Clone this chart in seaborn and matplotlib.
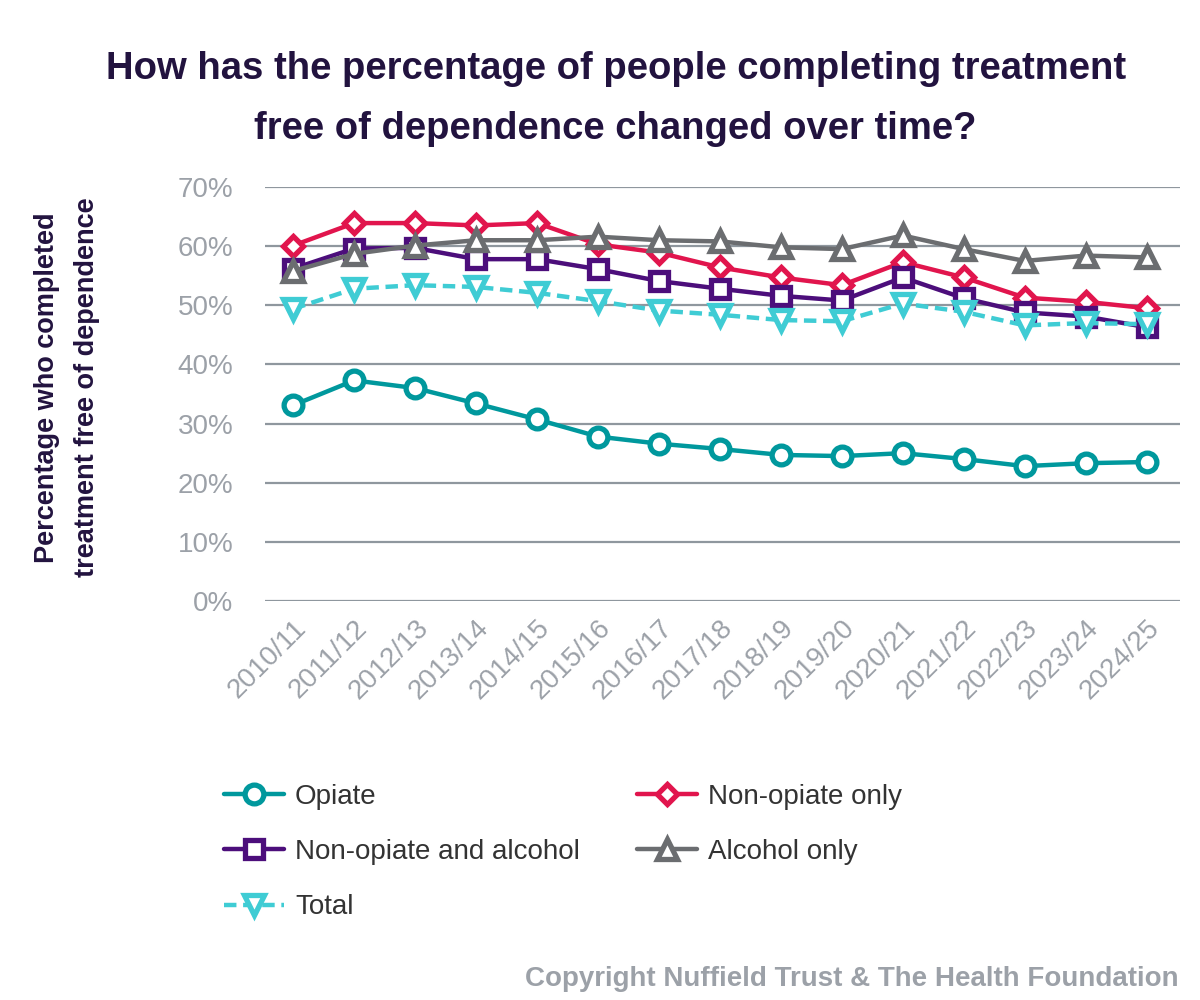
import pandas as pd
import seaborn as sns
import matplotlib.pyplot as plt
from matplotlib.ticker import FuncFormatter

# Data (percent completing treatment free of dependence)
years = ['2010/11', '2011/12', '2012/13', '2013/14', '2014/15', '2015/16', '2016/17', '2017/18',
         '2018/19', '2019/20', '2020/21', '2021/22', '2022/23', '2023/24', '2024/25']
opiate = [33.1, 37.3, 36.0, 33.4, 30.7, 27.8, 26.6, 25.7, 24.7, 24.5, 25.0, 24.0, 22.8, 23.3, 23.5]
non_opiate_only = [60.1, 63.9, 63.9, 63.5, 63.9, 60.3, 58.9, 56.4, 54.7, 53.4, 57.3, 54.7, 51.3, 50.6, 49.5]
non_opiate_alcohol = [56.2, 59.6, 59.7, 57.8, 57.8, 56.1, 54.1, 52.8, 51.6, 50.8, 54.7, 51.2, 48.8, 48.1, 46.3]
alcohol_only = [55.8, 58.7, 60.1, 61.0, 61.0, 61.6, 61.0, 60.8, 59.8, 59.5, 61.8, 59.5, 57.5, 58.4, 58.1]
total = [49.4, 52.8, 53.4, 53.1, 52.1, 50.7, 49.1, 48.4, 47.5, 47.3, 50.3, 48.9, 46.6, 47.0, 46.8]

series = ['Opiate', 'Non-opiate only', 'Non-opiate and alcohol', 'Alcohol only', 'Total']
values = [opiate, non_opiate_only, non_opiate_alcohol, alcohol_only, total]
colours = ['#00989D', '#E1154D', '#4C0E7B', '#6B6D70', '#3FCCD4']
markers = ['o', 'D', 's', '^', 'v']
msizes = [13.5, 10, 12.5, 14.5, 14.5]
styles = ['-', '-', '-', '-', '--']

df = pd.DataFrame({'year': years * len(series),
                   'group': [s for s in series for _ in years],
                   'pct': [v for vals in values for v in vals]})

### Style.
sns.set_theme(style="white")
plt.rcParams['font.family'] = ['Liberation Sans', 'DejaVu Sans']

fig = plt.figure(figsize=(12, 10), dpi=100)
ax = fig.add_axes([0.221, 0.399, 0.762, 0.414])

handles = {}
for name, col, mk, ms, ls in zip(series, colours, markers, msizes, styles):
    sns.lineplot(data=df[df['group'] == name], x='year', y='pct', ax=ax,
                 color=col, marker=mk, markersize=ms, markerfacecolor='white',
                 markeredgecolor=col, markeredgewidth=3.8, linewidth=3.2,
                 linestyle=ls, label=name, legend=False)
    ln = ax.lines[-1]
    if ls == '--':
        ln.set_dashes((2.8, 1.5))
    handles[name] = ln

### Axes.
ax.set_ylim(0, 70)
ax.set_xlim(-0.46, 14.54)
ax.set_yticks(range(0, 71, 10))
ax.yaxis.set_major_formatter(FuncFormatter(lambda v, p: '%d%%' % v))
ax.grid(axis='y', color='#8F979E', linewidth=1.6)
ax.set_axisbelow(True)
for s in ax.spines.values():
    s.set_visible(False)
ax.tick_params(axis='both', length=0, labelsize=20, colors='#9CA1A8')
ax.tick_params(axis='y', pad=23)
ax.tick_params(axis='x', pad=10)
plt.setp(ax.get_xticklabels(), rotation=45, ha='right', rotation_mode='anchor')
ax.set_xlabel('')
ax.set_ylabel('')

### Text.
fig.text(0.513, 0.901, 'How has the percentage of people completing treatment\nfree of dependence changed over time?',
         ha='center', va='center', fontsize=27.5, fontweight='bold', color='#22133F', linespacing=1.85)
fig.text(0.0555, 0.6125, 'Percentage who completed\ntreatment free of dependence',
         rotation=90, ha='center', va='center', fontsize=19.5, fontweight='bold',
         color='#22133F', linespacing=1.7)
fig.text(0.982, 0.021, 'Copyright Nuffield Trust & The Health Foundation',
         ha='right', va='center', fontsize=20, fontweight='bold', color='#9CA1A8')

### Legend (column order: left column first).
order = ['Opiate', 'Non-opiate and alcohol', 'Total', 'Non-opiate only', 'Alcohol only']
fig.legend([handles[n] for n in order], order, loc='upper left', bbox_to_anchor=(0.166, 0.241),
           ncol=2, frameon=False, fontsize=20, handlelength=2.15, handletextpad=0.4,
           columnspacing=2.05, labelspacing=1.05, labelcolor='#333333')

fig.savefig('out.png', dpi=100)
